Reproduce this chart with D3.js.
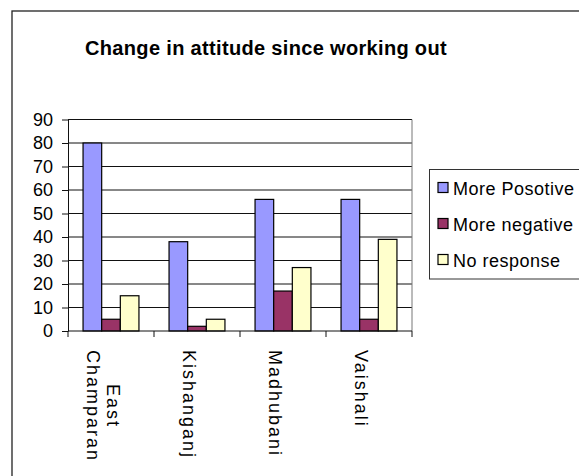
<!DOCTYPE html>
<html>
<head>
<meta charset="utf-8">
<script src="https://cdn.jsdelivr.net/npm/d3@7"></script>
<style>
  html, body { margin: 0; padding: 0; background: #fff; }
  svg { display: block; font-family: "Liberation Sans", Arial, sans-serif; }
</style>
</head>
<body>
<svg id="chart" width="579" height="476"></svg>
<script>
// Survey data: attitude change per district
const categories = ["East Champaran", "Kishanganj", "Madhubani", "Vaishali"];
const series = ["More Posotive", "More negative", "No response"];
const morePositive = [80, 38, 56, 56];
const moreNegative = [5, 2, 17, 5];
const noResponse = [15, 5, 27, 39];
const yTicks = [0, 10, 20, 30, 40, 50, 60, 70, 80, 90];
const colors = ["#9999FF", "#993366", "#FFFFCC"];
const title = "Change in attitude since working out";

const values = [morePositive, moreNegative, noResponse];
const rows = categories.map((c, i) => ({
  category: c,
  bars: series.map((s, j) => ({ series: s, value: values[j][i] }))
}));

const svg = d3.select("#chart");

// Outer chart frame
svg.append("rect")
  .attr("x", 12).attr("y", 11)
  .attr("width", 600).attr("height", 500)
  .attr("fill", "#fff")
  .attr("stroke", "#222").attr("stroke-width", 1.3);

// Title
svg.append("text")
  .attr("x", 266).attr("y", 54.5)
  .attr("text-anchor", "middle")
  .attr("font-size", 20).attr("font-weight", "bold")
  .attr("letter-spacing", 0.33)
  .attr("fill", "#000")
  .text(title);

const plot = { left: 68, right: 412, top: 119.5, bottom: 331 };

const x = d3.scaleBand()
  .domain(categories)
  .range([plot.left, plot.right])
  .paddingInner(0.35)
  .paddingOuter(0.175);

const xs = d3.scaleBand()
  .domain(series)
  .range([0, x.bandwidth()]);

const y = d3.scaleLinear()
  .domain([0, 90])
  .range([plot.bottom, plot.top]);

const color = d3.scaleOrdinal().domain(series).range(colors);

// Horizontal gridlines
svg.append("g")
  .selectAll("line")
  .data(yTicks.filter(t => t > 0))
  .join("line")
  .attr("x1", plot.left).attr("x2", plot.right)
  .attr("y1", d => y(d)).attr("y2", d => y(d))
  .attr("stroke", "#111").attr("stroke-width", 1);

// Right edge of plot area
svg.append("line")
  .attr("x1", plot.right).attr("x2", plot.right)
  .attr("y1", plot.top).attr("y2", plot.bottom)
  .attr("stroke", "#777").attr("stroke-width", 1);

// Bars
const groups = svg.append("g")
  .selectAll("g")
  .data(rows)
  .join("g")
  .attr("transform", d => `translate(${x(d.category)},0)`);

groups.selectAll("rect")
  .data(d => d.bars)
  .join("rect")
  .attr("x", d => xs(d.series))
  .attr("y", d => y(d.value))
  .attr("width", xs.bandwidth())
  .attr("height", d => y(0) - y(d.value))
  .attr("fill", d => color(d.series))
  .attr("stroke", "#000").attr("stroke-width", 1.2);

// Y axis
const yAxis = svg.append("g")
  .attr("transform", `translate(${plot.left},0)`)
  .call(d3.axisLeft(y).tickValues(yTicks).tickSize(6).tickPadding(9).tickSizeOuter(0));
yAxis.select(".domain").attr("stroke", "#111");
yAxis.selectAll(".tick line").attr("stroke", "#111");
yAxis.selectAll(".tick text")
  .attr("font-size", 18)
  .attr("font-family", "Liberation Sans, Arial, sans-serif")
  .attr("fill", "#000");

// X axis: boundary ticks between categories
const bounds = d3.range(categories.length + 1).map(i => plot.left + i * x.step());
svg.append("line")
  .attr("x1", plot.left).attr("x2", plot.right)
  .attr("y1", y(0)).attr("y2", y(0))
  .attr("stroke", "#111");
svg.append("g")
  .selectAll("line")
  .data(bounds)
  .join("line")
  .attr("x1", d => d).attr("x2", d => d)
  .attr("y1", y(0)).attr("y2", y(0) + 6)
  .attr("stroke", "#111");

// Category labels, rotated to read downward
const lineH = 20.5;
const labels = svg.append("g")
  .selectAll("g")
  .data(categories)
  .join("g")
  .attr("transform", d => `translate(${x(d) + x.bandwidth() / 2},350) rotate(90)`);

labels.each(function (d) {
  const g = d3.select(this);
  const lines = d.split(" ");
  const n = lines.length;
  const texts = lines.map((ln, i) =>
    g.append("text")
      .attr("y", 14 - (n - 1) / 2 * lineH + i * lineH)
      .attr("font-size", 18)
      .attr("letter-spacing", 2)
      .attr("fill", "#000")
      .text(ln));
  const w = d3.max(texts, t => t.node().getComputedTextLength());
  texts.forEach(t => t.attr("text-anchor", "middle").attr("x", w / 2));
});

// Legend
const legend = svg.append("g");
legend.append("rect")
  .attr("x", 429.5).attr("y", 169.5)
  .attr("width", 200).attr("height", 109.5)
  .attr("fill", "#fff")
  .attr("stroke", "#333").attr("stroke-width", 1);

const items = legend.selectAll("g.item")
  .data(series)
  .join("g")
  .attr("class", "item")
  .attr("transform", (d, i) => `translate(0,${195 + i * 36})`);

items.append("rect")
  .attr("x", 438).attr("y", -12.5)
  .attr("width", 10).attr("height", 10)
  .attr("fill", d => color(d))
  .attr("stroke", "#000").attr("stroke-width", 1.2);

items.append("text")
  .attr("x", 453).attr("y", 0)
  .attr("font-size", 18)
  .attr("letter-spacing", 0.5)
  .attr("fill", "#000")
  .text(d => d);
</script>
</body>
</html>
